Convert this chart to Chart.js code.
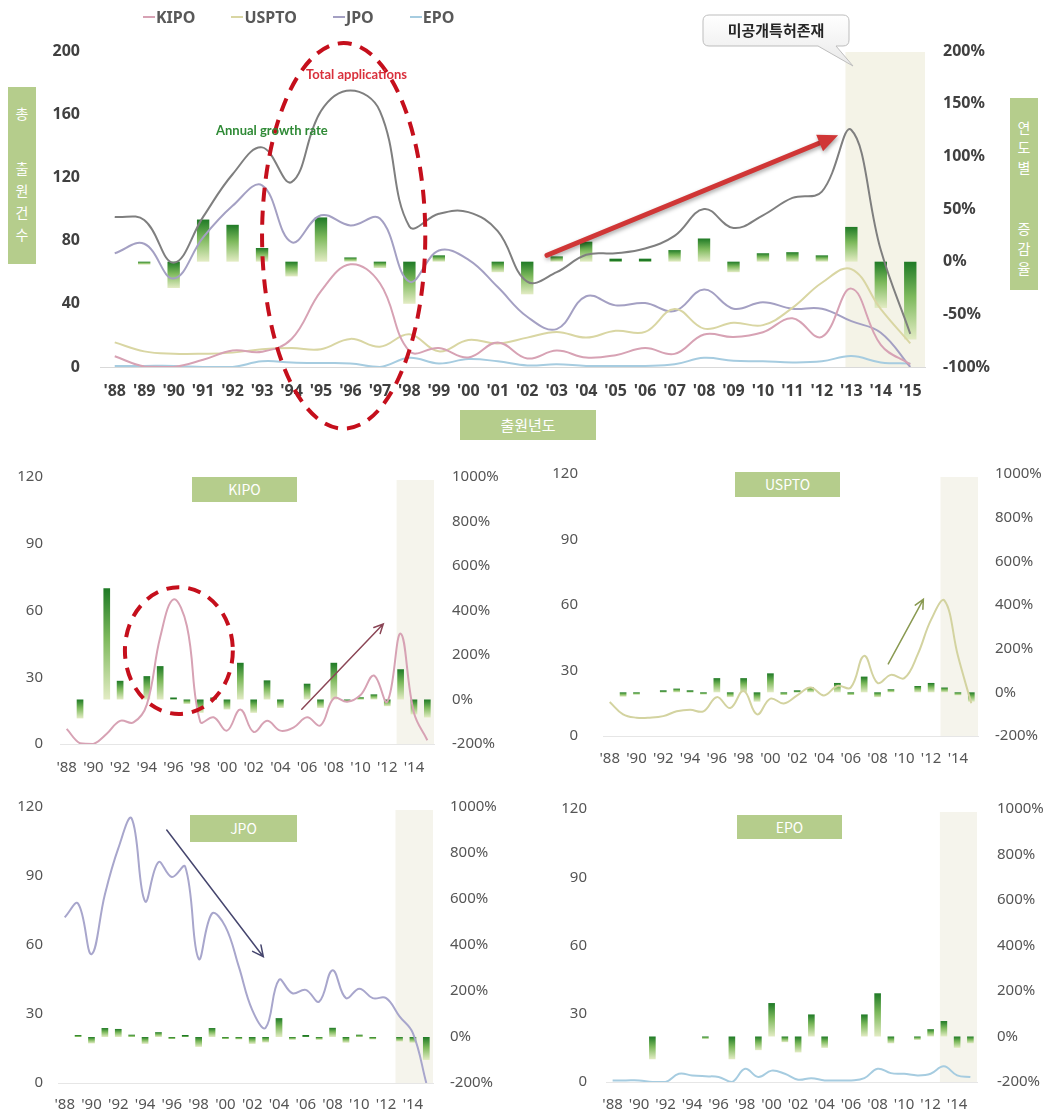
<!DOCTYPE html>
<html lang="ko">
<head>
<meta charset="utf-8">
<title>출원년도별 출원건수 및 증감율</title>
<script src="https://cdn.jsdelivr.net/npm/chart.js@4.4.1/dist/chart.umd.min.js"></script>
<style>
  html, body { margin: 0; padding: 0; background: #fff; }
  #page { position: relative; width: 1058px; height: 1116px; overflow: hidden; background: #fff; }
  canvas { position: absolute; }
  .gbox { position: absolute; background: #b5cd8c; color: #fff; text-align: center;
          font-family: 'Noto Sans CJK KR', 'Noto Sans', sans-serif; font-size: 14px; z-index: 3; }
  .vtext div { height: 22px; line-height: 22px; }
  #legend { position: absolute; left: 143px; top: 6px; display: flex; gap: 36px; z-index: 3;
            font-family: 'Noto Sans', sans-serif; font-weight: bold; font-size: 16px; color: #595959; }
  #legend span.item { display: flex; align-items: center; }
  #legend span.mk { display: inline-block; width: 12px; height: 2px; margin-right: 1px; }
  .note { position: absolute; font-family: Lato, 'Noto Sans', sans-serif; font-weight: bold; font-size: 13px; z-index: 3; white-space: nowrap; }
  svg { position: absolute; left: 0; top: 0; z-index: 2; }
</style>
</head>
<body>
<div id="page">
  <canvas id="cTotal" width="1058" height="440" style="left:0px;top:0px"></canvas>
  <canvas id="cKIPO" width="530" height="330" style="left:0px;top:450px"></canvas>
  <canvas id="cUSPTO" width="528" height="330" style="left:530px;top:440px"></canvas>
  <canvas id="cJPO" width="530" height="336" style="left:0px;top:780px"></canvas>
  <canvas id="cEPO" width="528" height="336" style="left:530px;top:780px"></canvas>

  <div id="legend"></div>

  <div class="gbox vtext" style="left:8px;top:87px;width:28px;height:177px;padding-top:15px;box-sizing:border-box">
    <div>총</div><div style="height:33px"></div><div>출</div><div>원</div><div>건</div><div>수</div>
  </div>
  <div class="gbox vtext" style="left:1010px;top:98px;width:28px;height:192px;padding-top:19px;box-sizing:border-box">
    <div style="height:20px;line-height:20px">연</div><div style="height:20px;line-height:20px">도</div><div style="height:20px;line-height:20px">별</div>
    <div style="height:41px"></div>
    <div style="height:20px;line-height:20px">증</div><div style="height:20px;line-height:20px">감</div><div style="height:20px;line-height:20px">율</div>
  </div>
  <div class="gbox" style="left:460px;top:410px;width:136px;height:30px;line-height:30px;font-size:15px">출원년도</div>

  <div class="gbox" style="left:192px;top:477px;width:105px;height:25px;line-height:25px">KIPO</div>
  <div class="gbox" style="left:735px;top:472px;width:105px;height:25px;line-height:25px">USPTO</div>
  <div class="gbox" style="left:190px;top:815px;width:107px;height:27px;line-height:27px">JPO</div>
  <div class="gbox" style="left:737px;top:815px;width:105px;height:24px;line-height:24px">EPO</div>

  <div class="note" style="left:306px;top:66px;color:#d9303c">Total applications</div>
  <div class="note" style="left:216px;top:122px;color:#2f8a36">Annual growth rate</div>

  <svg width="1058" height="80">
    <defs>
      <linearGradient id="cg" x1="0" y1="0" x2="0" y2="1">
        <stop offset="0" stop-color="#ffffff"/>
        <stop offset="1" stop-color="#e9e9e9"/>
      </linearGradient>
    </defs>
    <path d="M709 15 H843 Q849 15 849 21 V40 Q849 46 843 46 H836 L853 66 L818 46 H709 Q703 46 703 40 V21 Q703 15 709 15 Z"
          fill="url(#cg)" stroke="#bdbdbd" stroke-width="1"/>
    <text x="776" y="36" text-anchor="middle" font-family="'Noto Sans CJK KR', sans-serif"
          font-weight="bold" font-size="15" fill="#262626">미공개특허존재</text>
  </svg>
</div>

<script>
// 출원년도
const years = ["'88","'89","'90","'91","'92","'93","'94","'95","'96","'97","'98","'99","'00","'01",
               "'02","'03","'04","'05","'06","'07","'08","'09","'10","'11","'12","'13","'14","'15"];

// 출원건수 (left axis)
const totalApps = [95, 93, 66, 95, 122, 139, 117, 162, 175, 162, 89, 97, 98, 86, 54, 60, 71, 72, 75, 83, 100, 88, 96, 107, 111, 150, 74, 21];
const kipoApps  = [6.8, 0.3, 0, 4.6, 10.4, 9.7, 17.7, 48, 65, 53, 10, 12, 6, 15.5, 5.4, 10.4, 6, 7.5, 12, 8.3, 20.6, 19, 22, 30.8, 19, 49.6, 14, 1.7];
const usptoApps = [15.6, 9.9, 8.4, 8.4, 9.1, 11.3, 12, 11.3, 17.8, 12.8, 20.7, 9.9, 17.1, 14.9, 18.6, 22.2, 18.6, 22.9, 22.2, 36.7, 24.3, 28, 26.5, 37.4, 53.3, 62, 36.7, 15];
const jpoApps   = [72, 78, 56, 82, 102, 115, 79, 96, 89.6, 94, 54, 73.7, 68, 50.6, 31.8, 24, 44.8, 39, 40.5, 35.4, 49, 36.9, 41, 36.9, 36.9, 29, 21.7, 0];
const epoApps   = [0.7, 0.7, 0.7, 0, 0, 3.6, 2.9, 2.5, 2.2, 0, 5.8, 2.2, 5, 3.6, 1, 1.7, 0.7, 0.7, 0.7, 1.7, 5.8, 3.9, 3.6, 2.9, 3.6, 6.9, 2.9, 2.2];

// 연도별 증감율 (%, right axis)
const totalGrowth = [null, -2, -25, 40, 35, 13, -14, 42, 4, -6, -40, 6, null, -10, -31, 5, 19, 1, 1, 11, 22, -10, 8, 9, 6, 33, -44, -74];
const kipoGrowth  = [null, -85, null, 500, 84, null, 105, 150, 4, -20, -60, 3, -45, 165, -60, 86, -38, null, 71, -38, 165, -10, 10, 23, -30, 136, -67, -81];
const usptoGrowth = [null, -20, -10, null, 7, 17, 7, -7, 65, -22, 65, -43, 87, -12, 7, 22, null, 43, -12, 72, -22, 14, null, 29, 43, 22, -14, -43];
const jpoGrowth   = [null, 8, -28, 39, 35, 10, -30, 21, -7, 6, -43, 39, -7, -10, -30, -24, 82, -12, 4, -12, 40, -25, 10, -10, null, -20, -25, -100];
const epoGrowth   = [null, null, null, -100, null, null, null, -10, null, -100, null, -60, 147, -25, -70, 97, -50, null, null, 97, 190, -30, null, -15, 32, 68, -50, -30];

const officeNames = ['KIPO', 'USPTO', 'JPO', 'EPO'];
const officeColors = ['#d7a2b4', '#d9d6a3', '#a4a0c3', '#a6cce0'];
const totalColor = '#7f7f7f';
const FONT = "'Noto Sans', 'Noto Sans CJK KR', sans-serif";

// HTML legend (total line is not listed)
const legendEl = document.getElementById('legend');
officeNames.forEach((n, i) => {
  legendEl.innerHTML += '<span class="item"><span class="mk" style="background:' + officeColors[i] + '"></span>' + n + '</span>';
});

// green gradient bars: dark at the top, pale at the bottom
function greenFill(context) {
  const chart = context.chart;
  const v = context.raw;
  const scale = chart.scales[context.dataset.yAxisID];
  if (v == null || !chart.chartArea || !scale) return '#3c8f3c';
  const y0 = scale.getPixelForValue(0);
  const y1 = scale.getPixelForValue(v);
  const top = Math.min(y0, y1);
  const bottom = Math.max(y0, y1, top + 3);
  const g = chart.ctx.createLinearGradient(0, top, 0, bottom);
  g.addColorStop(0, '#1f7a26');
  g.addColorStop(0.45, '#7db95c');
  g.addColorStop(1, '#e3ecc4');
  return g;
}

function drawArrow(ctx, x1, y1, x2, y2, o) {
  const ang = Math.atan2(y2 - y1, x2 - x1);
  const h = o.head;
  ctx.save();
  ctx.strokeStyle = o.color;
  ctx.fillStyle = o.color;
  ctx.lineWidth = o.width;
  ctx.lineCap = 'round';
  if (o.shadow) {
    ctx.shadowColor = 'rgba(0,0,0,0.35)';
    ctx.shadowBlur = 4;
    ctx.shadowOffsetX = 1;
    ctx.shadowOffsetY = 2;
  }
  if (o.filled) {
    const bx = x2 - h * Math.cos(ang), by = y2 - h * Math.sin(ang);
    ctx.beginPath(); ctx.moveTo(x1, y1); ctx.lineTo(bx, by); ctx.stroke();
    ctx.beginPath();
    ctx.moveTo(x2, y2);
    ctx.lineTo(bx + h * 0.45 * Math.sin(ang), by - h * 0.45 * Math.cos(ang));
    ctx.lineTo(bx - h * 0.45 * Math.sin(ang), by + h * 0.45 * Math.cos(ang));
    ctx.closePath(); ctx.fill();
  } else {
    ctx.beginPath();
    ctx.moveTo(x1, y1); ctx.lineTo(x2, y2);
    ctx.moveTo(x2 - h * Math.cos(ang - 0.45), y2 - h * Math.sin(ang - 0.45));
    ctx.lineTo(x2, y2);
    ctx.lineTo(x2 - h * Math.cos(ang + 0.45), y2 - h * Math.sin(ang + 0.45));
    ctx.stroke();
  }
  ctx.restore();
}

// shaded band, dashed ellipses and arrows, placed in category / value units
function marks(spec) {
  const px = (chart, i) => {
    const x = chart.scales.x;
    const step = x.getPixelForValue(1) - x.getPixelForValue(0);
    return x.getPixelForValue(0) + i * step;
  };
  const py = (chart, v) => chart.scales.y.getPixelForValue(v);
  return {
    id: 'marks',
    beforeDatasetsDraw(chart) {
      const { ctx, chartArea: a } = chart;
      const left = px(chart, spec.bandFrom);
      ctx.save();
      ctx.fillStyle = spec.bandColor;
      ctx.fillRect(left, a.top + spec.bandInset, a.right - left, a.bottom - a.top - spec.bandInset);
      ctx.restore();
    },
    afterDatasetsDraw(chart) {
      const ctx = chart.ctx;
      (spec.ellipses || []).forEach(e => {
        const cx = px(chart, e.cx), cy = py(chart, e.cy);
        const rx = px(chart, e.cx + e.rx) - cx;
        const ry = py(chart, e.cy - e.ry) - cy;
        ctx.save();
        ctx.strokeStyle = e.color;
        ctx.lineWidth = e.width;
        ctx.setLineDash(e.dash);
        ctx.beginPath();
        ctx.ellipse(cx, cy, rx, ry, 0, 0, Math.PI * 2);
        ctx.stroke();
        ctx.restore();
      });
      (spec.arrows || []).forEach(r => {
        drawArrow(ctx, px(chart, r.from[0]), py(chart, r.from[1]), px(chart, r.to[0]), py(chart, r.to[1]), r);
      });
    }
  };
}

function lineSet(label, data, color, width) {
  return { type: 'line', label, data, yAxisID: 'y', borderColor: color, borderWidth: width,
           pointRadius: 0, tension: 0.4, fill: false, order: 1 };
}

// ---------- top chart: total applications ----------
new Chart(document.getElementById('cTotal'), {
  type: 'bar',
  data: {
    labels: years,
    datasets: [
      lineSet('Total', totalApps, totalColor, 2),
      lineSet('KIPO', kipoApps, officeColors[0], 2),
      lineSet('USPTO', usptoApps, officeColors[1], 2),
      lineSet('JPO', jpoApps, officeColors[2], 2),
      lineSet('EPO', epoApps, officeColors[3], 2),
      { type: 'bar', label: 'Annual growth rate', data: totalGrowth, yAxisID: 'y1',
        backgroundColor: greenFill, barPercentage: 0.42, categoryPercentage: 1, minBarLength: 3, order: 10 }
    ]
  },
  options: {
    responsive: false,
    animation: false,
    layout: { padding: { top: 51, left: 0, right: 0, bottom: 0 } },
    plugins: { legend: { display: false }, tooltip: { enabled: false } },
    scales: {
      x: {
        grid: { display: false, drawTicks: false },
        border: { display: true, color: '#d9d9d9' },
        ticks: { color: '#404040', font: { family: FONT, size: 16, weight: 'bold' }, padding: 15, maxRotation: 0, autoSkip: false },
        afterFit: s => { s.height = 73; }
      },
      y: {
        position: 'left', min: 0, max: 200,
        grid: { display: false, drawTicks: false }, border: { display: false },
        ticks: { stepSize: 40, color: '#404040', font: { family: FONT, size: 16, weight: 'bold' }, padding: 20 },
        afterFit: s => { s.width = 100; }
      },
      y1: {
        position: 'right', min: -100, max: 200,
        grid: { display: false, drawTicks: false }, border: { display: false },
        ticks: { stepSize: 50, color: '#404040', font: { family: FONT, size: 16, weight: 'bold' }, padding: 18,
                 callback: v => v + '%' },
        afterFit: s => { s.width = 133; }
      }
    }
  },
  plugins: [marks({
    bandFrom: 24.8, bandColor: '#f4f3e7', bandInset: 1,
    ellipses: [{ cx: 7.77, cy: 83, rx: 2.77, ry: 122, color: '#c50f1c', width: 4, dash: [14, 9] }],
    arrows: [{ from: [14.67, 70.7], to: [24.55, 146.6], color: '#d03636', width: 5, head: 20, filled: true, shadow: true }]
  })]
});

// ---------- small charts per office ----------
function smallChart(id, name, apps, growth, color, g, spec) {
  return new Chart(document.getElementById(id), {
    type: 'bar',
    data: {
      labels: years,
      datasets: [
        lineSet(name, apps, color, 2),
        { type: 'bar', label: name + ' growth', data: growth, yAxisID: 'y1',
          backgroundColor: greenFill, barPercentage: 0.5, categoryPercentage: 1, minBarLength: 2, order: 10 }
      ]
    },
    options: {
      responsive: false,
      animation: false,
      layout: { padding: { top: g.top, left: 0, right: 0, bottom: 0 } },
      plugins: { legend: { display: false }, tooltip: { enabled: false } },
      scales: {
        x: {
          grid: { display: false, drawTicks: false },
          border: { display: true, color: '#e6e6e6' },
          ticks: { color: '#555', font: { family: FONT, size: 15 }, padding: g.xPad, maxRotation: 0, autoSkip: false,
                   callback: (v, i) => (i % 2 === 0 ? years[i] : '') },
          afterFit: s => { s.height = g.xH; }
        },
        y: {
          position: 'left', min: 0, max: 120,
          grid: { display: false, drawTicks: false }, border: { display: false },
          ticks: { stepSize: 30, color: '#555', font: { family: FONT, size: 15 }, padding: g.leftPad },
          afterFit: s => { s.width = g.leftW; }
        },
        y1: {
          position: 'right', min: -200, max: 1000,
          grid: { display: false, drawTicks: false }, border: { display: false },
          ticks: { stepSize: 200, color: '#555', font: { family: FONT, size: 15 }, padding: g.rightPad,
                   callback: v => v + '%' },
          afterFit: s => { s.width = g.rightW; }
        }
      }
    },
    plugins: [marks(Object.assign({ bandFrom: 24.7, bandColor: '#f5f4ec', bandInset: 3 }, spec))]
  });
}

smallChart('cKIPO', 'KIPO', kipoApps, kipoGrowth, officeColors[0],
  { top: 18, xH: 36, xPad: 15, leftW: 60, leftPad: 17, rightW: 96, rightPad: 18 },
  { ellipses: [{ cx: 8.4, cy: 42, rx: 4.04, ry: 28.5, color: '#c50f1c', width: 4, dash: [13, 9] }],
    arrows: [{ from: [17.6, 15.6], to: [23.7, 53.9], color: '#8b4656', width: 1.5, head: 10 }] });

smallChart('cUSPTO', 'USPTO', usptoApps, usptoGrowth, '#d3d3a0',
  { top: 23, xH: 31, xPad: 14, leftW: 73, leftPad: 25, rightW: 80, rightPad: 17 },
  { arrows: [{ from: [20.8, 33], to: [23.42, 62.6], color: '#8a9a52', width: 1.5, head: 10 }] });

smallChart('cJPO', 'JPO', jpoApps, jpoGrowth, '#a8a6cc',
  { top: 27, xH: 33, xPad: 13, leftW: 58, leftPad: 15, rightW: 97, rightPad: 17 },
  { arrows: [{ from: [7.62, 110], to: [14.83, 54.9], color: '#46466e', width: 1.5, head: 12 }] });

smallChart('cEPO', 'EPO', epoApps, epoGrowth, officeColors[3],
  { top: 25, xH: 34, xPad: 14, leftW: 76, leftPad: 19, rightW: 81, rightPad: 20 },
  {});
</script>
</body>
</html>
